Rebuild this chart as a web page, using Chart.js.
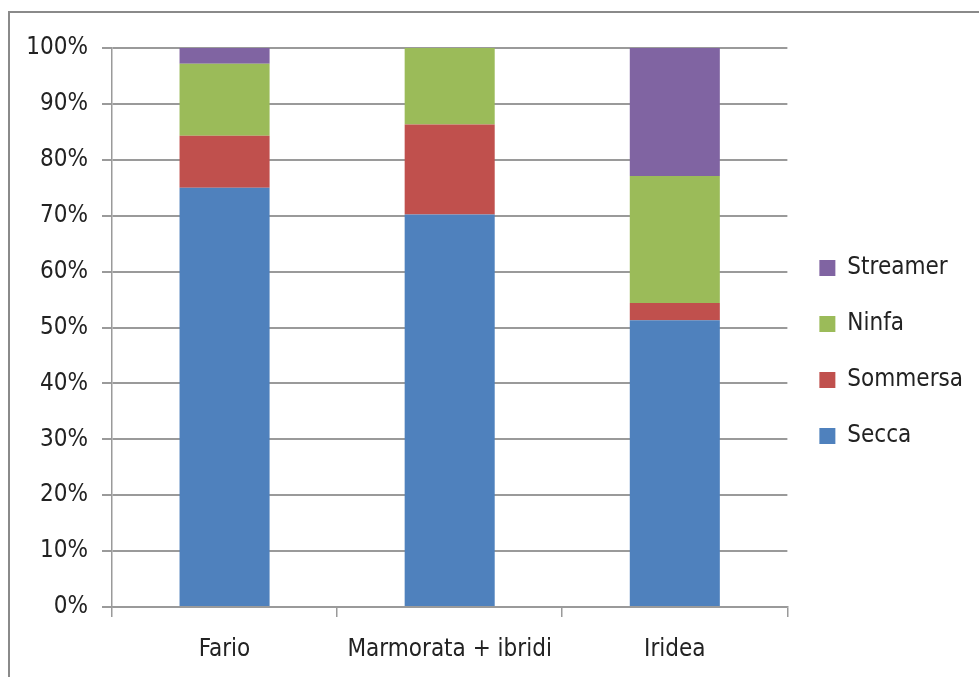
<!DOCTYPE html>
<html>
<head>
<meta charset="utf-8">
<title>Esche per specie</title>
<script src="https://cdn.jsdelivr.net/npm/chart.js@4/dist/chart.umd.min.js"></script>
<style>
  html, body { margin: 0; padding: 0; background: #fff; overflow: hidden; }
  #wrap { position: relative; width: 979px; height: 677px; }
  #frame {
    position: absolute; left: 8px; top: 11px; width: 1200px; height: 900px;
    border-top: 2px solid #8a8a8a; border-left: 2px solid #8a8a8a;
  }
  #chart { position: absolute; left: 0; top: 0; }
</style>
</head>
<body>
<div id="wrap">
  <div id="frame"></div>
  <canvas id="chart" width="979" height="677"></canvas>
</div>
<script>
// categorie e serie (percentuali)
const categories = ['Fario', 'Marmorata + ibridi', 'Iridea'];
const secca = [75.0, 70.2, 51.3];
const sommersa = [9.3, 16.1, 3.1];
const ninfa = [12.9, 13.7, 22.7];
const streamer = [2.8, 0, 22.9];
const yTicks = [0, 10, 20, 30, 40, 50, 60, 70, 80, 90, 100];

const font = { family: '"DejaVu Sans Condensed", "Liberation Sans Narrow", "DejaVu Sans", sans-serif', size: 24 };
const gridColor = '#9a9a9a';

function initChart() {
  const ctx = document.getElementById('chart').getContext('2d');
  new Chart(ctx, {
    type: 'bar',
    data: {
      labels: categories,
      datasets: [
        { label: 'Secca', data: secca, backgroundColor: '#4f81bd' },
        { label: 'Sommersa', data: sommersa, backgroundColor: '#c0504d' },
        { label: 'Ninfa', data: ninfa, backgroundColor: '#9bbb59' },
        { label: 'Streamer', data: streamer, backgroundColor: '#8064a2' }
      ]
    },
    options: {
      responsive: false,
      animation: false,
      barPercentage: 0.4,
      categoryPercentage: 1,
      layout: { padding: { top: 48, right: 6, bottom: 0, left: 0 } },
      plugins: {
        tooltip: { enabled: false },
        legend: {
          position: 'right',
          fullSize: false,
          reverse: true,
          // titolo vuoto: sposta le voci verso il basso come nell'originale
          title: { display: true, text: '', font: font, padding: 10 },
          labels: {
            font: font,
            color: '#222',
            boxWidth: 16,
            boxHeight: 16,
            padding: 32
          }
        }
      },
      scales: {
        x: {
          stacked: true,
          grid: {
            offset: true,
            drawOnChartArea: false,
            drawTicks: true,
            tickLength: 10,
            color: gridColor,
            lineWidth: 1.5
          },
          border: { color: gridColor, width: 1.5 },
          ticks: { font: font, color: '#222', padding: 18, maxRotation: 0 },
          afterFit: scale => { scale.height = 70; }
        },
        y: {
          stacked: true,
          min: 0,
          max: 100,
          afterBuildTicks: scale => { scale.ticks = yTicks.map(v => ({ value: v })); },
          grid: { color: gridColor, lineWidth: 2, tickLength: 10 },
          border: { color: gridColor, width: 1.5 },
          ticks: { font: font, color: '#222', padding: 14, callback: v => v + '%' },
          afterFit: scale => { scale.width = 112; }
        }
      }
    }
  });
}

if (document.readyState === 'loading') {
  document.addEventListener('DOMContentLoaded', initChart);
} else {
  initChart();
}
</script>
</body>
</html>
